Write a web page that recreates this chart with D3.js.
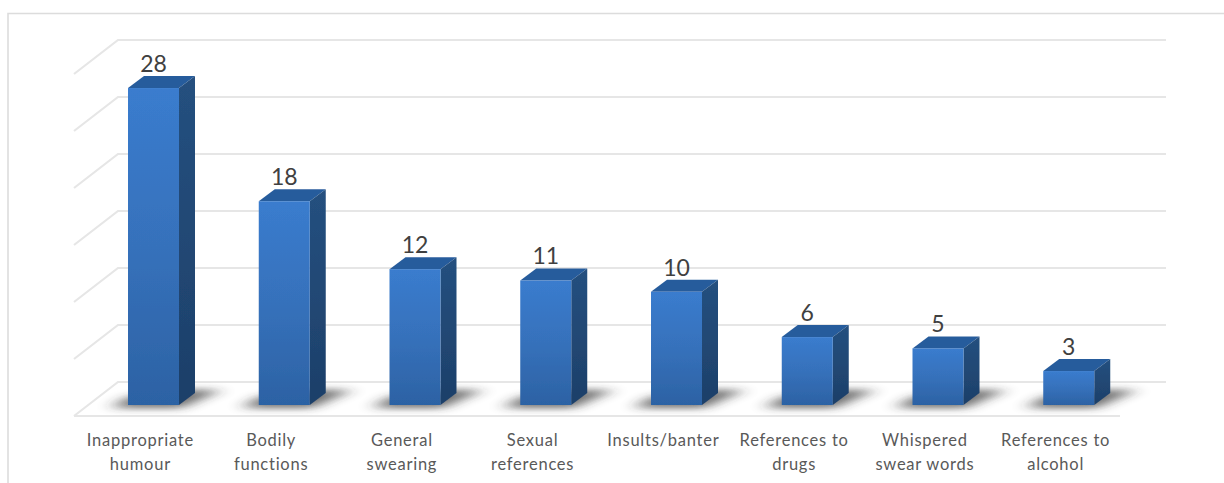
<!DOCTYPE html>
<html>
<head>
<meta charset="utf-8">
<script src="https://cdn.jsdelivr.net/npm/d3@7"></script>
<style>
html,body{margin:0;padding:0;background:#fff;overflow:hidden}
svg{display:block}
text{font-family:Lato,"Liberation Sans",Arial,sans-serif}
</style>
</head>
<body>
<svg id="chart" width="1224" height="483"></svg>
<script>
// Content themes counted across the sample
const categories = [
  ["Inappropriate", "humour"],
  ["Bodily", "functions"],
  ["General", "swearing"],
  ["Sexual", "references"],
  ["Insults/banter"],
  ["References to", "drugs"],
  ["Whispered", "swear words"],
  ["References to", "alcohol"]
];
const counts = [28, 18, 12, 11, 10, 6, 5, 3];
const gridTicks = [0, 5, 10, 15, 20, 25, 30];

const svg = d3.select("#chart");
const defs = svg.append("defs");

// Pseudo-3D projection: the back wall sits up and right of the floor's front edge
const depth = { dx: 44, dy: 34 };
const barDepth = { dx: 16, dy: 12 };
const barOffset = 53;

const x = d3.scaleBand().domain(d3.range(categories.length)).range([75, 1121]).paddingInner(0).paddingOuter(0);
const barWidth = 51;
const wallY = d3.scaleLinear().domain([0, 30]).range([382, 40]);
const barY = d3.scaleLinear().domain([0, 30]).range([405, 65.4]);

const gradient = (id, stops) => {
  const g = defs.append("linearGradient").attr("id", id)
    .attr("x1", 0).attr("y1", 0).attr("x2", 0).attr("y2", 1);
  stops.forEach(([o, c]) => g.append("stop").attr("offset", o).attr("stop-color", c));
};
gradient("faceFill", [[0, "#3a7cce"], [0.5, "#3671bb"], [1, "#2c62a4"]]);
gradient("sideFill", [[0, "#25507f"], [1, "#1d3f69"]]);
defs.append("filter").attr("id", "soft")
  .attr("x", "-60%").attr("y", "-200%").attr("width", "220%").attr("height", "500%")
  .append("feGaussianBlur").attr("stdDeviation", "9 3.6");
defs.append("filter").attr("id", "edge")
  .append("feGaussianBlur").attr("stdDeviation", 0.6);

// Chart frame, open at the right and bottom
svg.append("path")
  .attr("d", d3.line()([[8, 483], [8, 13.5], [1224, 13.5]]))
  .attr("fill", "none").attr("stroke", "#dcdcdc").attr("stroke-width", 1.6);

// Back wall and side wall gridlines
const grid = svg.append("g").attr("fill", "none").attr("stroke", "#e6e6e6").attr("stroke-width", 2.2);
grid.selectAll("path.wall").data(gridTicks).join("path").attr("class", "wall")
  .attr("d", t => d3.line()([
    [x.range()[0] - 1, wallY(t) + depth.dy],
    [x.range()[0] - 1 + depth.dx, wallY(t)],
    [1166, wallY(t)]
  ]));
grid.append("path")
  .attr("d", d3.line()([
    [x.range()[0] - 1, wallY(0) + depth.dy],
    [1120, wallY(0) + depth.dy]
  ]));

const bars = svg.append("g").selectAll("g").data(counts).join("g")
  .attr("transform", (d, i) => `translate(${x(i) + barOffset},0)`);

// Shadows cast on the floor
bars.append("path")
  .attr("filter", "url(#soft)")
  .attr("fill", "#2c2c2c")
  .attr("opacity", 0.68)
  .attr("d", () => {
    const y0 = barY(0);
    return d3.line()([
      [-16, y0 + 3], [barWidth + 2, y0 + 3],
      [barWidth + barDepth.dx + 26, y0 - 15], [barWidth + barDepth.dx - 10, y0 - 15], [0, y0 - 8]
    ]) + "Z";
  });

// Top, side and front faces of each bar
bars.append("path")
  .attr("fill", "#285c9c").attr("filter", "url(#edge)")
  .attr("d", d => d3.line()([
    [0, barY(d)], [barDepth.dx, barY(d) - barDepth.dy],
    [barWidth + barDepth.dx, barY(d) - barDepth.dy], [barWidth, barY(d)]
  ]) + "Z");
bars.append("path")
  .attr("fill", "url(#sideFill)").attr("filter", "url(#edge)")
  .attr("d", d => d3.line()([
    [barWidth, barY(d)], [barWidth + barDepth.dx, barY(d) - barDepth.dy],
    [barWidth + barDepth.dx, barY(0) - barDepth.dy], [barWidth, barY(0)]
  ]) + "Z");
bars.append("rect")
  .attr("fill", "url(#faceFill)").attr("filter", "url(#edge)")
  .attr("x", 0).attr("width", barWidth)
  .attr("y", d => barY(d)).attr("height", d => barY(0) - barY(d));

// Value labels above each bar
bars.append("text")
  .attr("x", barWidth / 2)
  .attr("y", d => barY(d) - 16)
  .attr("text-anchor", "middle")
  .attr("font-size", 23)
  .attr("fill", "#404040")
  .text(d => d);

// Category labels, wrapped on one or two lines
const labels = svg.append("g").selectAll("text").data(categories).join("text")
  .attr("text-anchor", "middle")
  .attr("font-size", 16.5)
  .attr("letter-spacing", 0.75)
  .attr("fill", "#595959")
  .attr("transform", (d, i) => `translate(${x(i) + x.bandwidth() / 2},0)`);
labels.selectAll("tspan").data(d => d).join("tspan")
  .attr("x", 0)
  .attr("y", (d, i) => 446 + i * 24)
  .text(d => d);
</script>
</body>
</html>
